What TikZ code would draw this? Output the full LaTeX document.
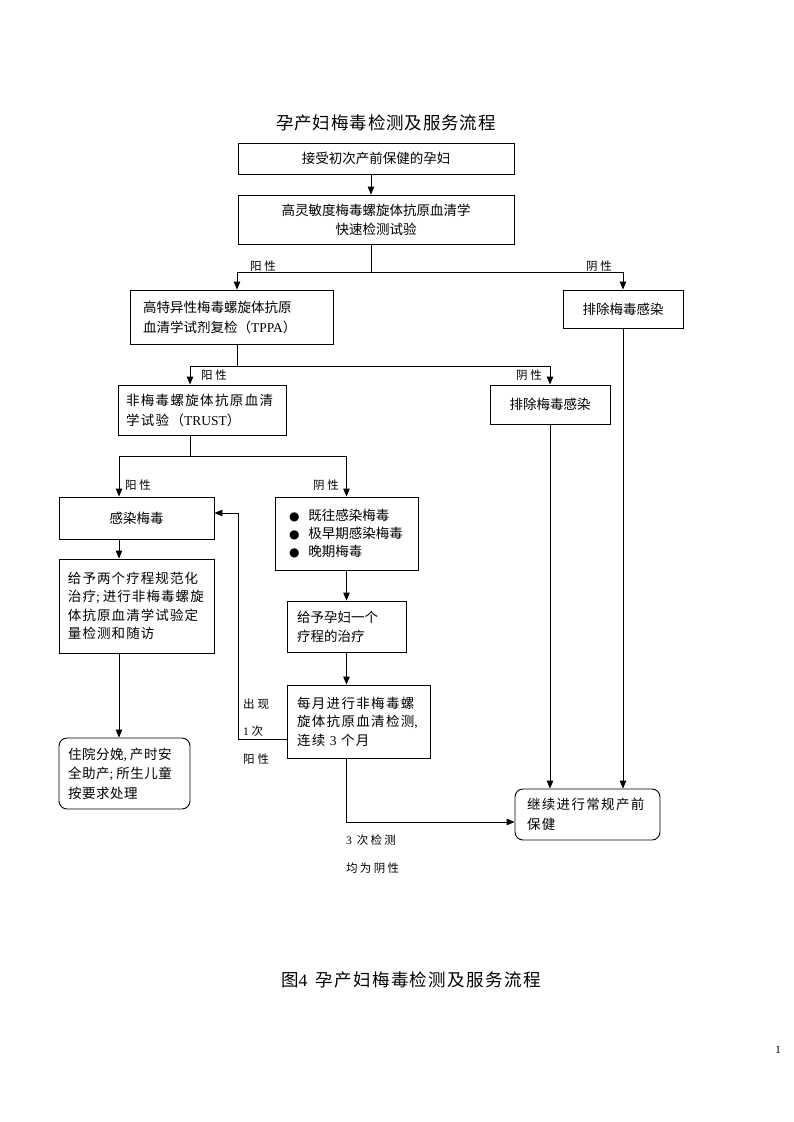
\documentclass[tikz,border=0pt]{standalone}
\usepackage{fontspec}
\setmainfont{Noto Sans CJK SC}
\newfontfamily\lat{Liberation Serif}
\newfontfamily\sym{DejaVu Sans}
\usetikzlibrary{arrows.meta}
\newcommand{\bodyfont}{\fontsize{13.5pt}{19pt}\selectfont}
\newcommand{\widefont}{\fontsize{13.5pt}{18.5pt}\selectfont\addfontfeature{LetterSpace=10}}
\newcommand{\labfont}{\fontsize{11.5pt}{14pt}\selectfont}
\newcommand{\bul}{\hspace*{5pt}{\sym\fontsize{12pt}{12pt}\selectfont ●}\hspace{9pt}}
\newcommand{\hsemi}{{\lat;}\nobreak\hspace{3pt}\nobreak}
\newcommand{\hcomma}{{\lat,}\nobreak\hspace{3pt}\nobreak}
\tikzset{
  box/.style={draw, line width=0.9pt, inner sep=0pt, font=\bodyfont},
  lbox/.style={box, align=left},
  rbox/.style={lbox, rounded corners=8pt},
  arr/.style={-{Triangle[length=8pt,width=6.5pt]}, line width=0.9pt},
  ln/.style={line width=0.9pt},
  lab/.style={font=\labfont, inner sep=0pt},
  llab/.style={lab, anchor=west},
}
\begin{document}
\begin{tikzpicture}[x=1pt,y=-1pt]
\useasboundingbox (0,0) rectangle (793,1122);
\fill[white] (0,0) rectangle (793,1122);

\node[font=\fontsize{17.5pt}{20pt}\selectfont\addfontfeature{LetterSpace=5}, inner sep=0pt] (title) at (386,123) {孕产妇梅毒检测及服务流程};

\node[box, minimum width=276pt, minimum height=31pt] (b1) at (376,158.5) {接受初次产前保健的孕妇};
\node[box, align=center, minimum width=276pt, minimum height=49pt] (b2) at (376,219.5) {高灵敏度梅毒螺旋体抗原血清学\\快速检测试验};
\node[lbox, text width=177pt, inner xsep=13pt, minimum height=54pt, font=\fontsize{13.5pt}{20pt}\selectfont] (b3) at (231.5,317) {高特异性梅毒螺旋体抗原\\血清学试剂复检（{\lat TPPA}）};
\node[box, minimum width=120pt, minimum height=38pt] (b4) at (623,309) {排除梅毒感染};
\node[lbox, text width=152pt, inner xsep=8pt, minimum height=50pt, font=\fontsize{13.5pt}{20pt}\selectfont\addfontfeature{LetterSpace=10}] (b5) at (202,410) {非梅毒螺旋体抗原血清\\学试验（{\lat TRUST}）};
\node[box, minimum width=120pt, minimum height=39pt] (b6) at (550,404.5) {排除梅毒感染};
\node[box, minimum width=155pt, minimum height=42pt] (b7) at (136.5,518) {感染梅毒};
\node[lbox, text width=125pt, inner xsep=9pt, minimum height=73pt, font=\fontsize{13.5pt}{18pt}\selectfont] (b8) at (346.5,533.5) {\bul 既往感染梅毒\\\bul 极早期感染梅毒\\\bul 晚期梅毒};
\node[lbox, text width=140pt, inner xsep=7.5pt, minimum height=94pt, font=\fontsize{13.5pt}{18.5pt}\selectfont\addfontfeature{LetterSpace=8}] (b9) at (136.5,606) {\hspace*{1.5pt}给予两个疗程规范化\\\hspace*{1.5pt}治疗\hsemi 进行非梅毒螺旋\\\hspace*{1.5pt}体抗原血清学试验定\\\hspace*{1.5pt}量检测和随访};
\node[rbox, text width=113pt, inner xsep=9pt, minimum height=71pt, font=\fontsize{13.5pt}{19.5pt}\selectfont\addfontfeature{LetterSpace=4}] (b10) at (124.5,773.5) {住院分娩\hcomma 产时安\\全助产\hsemi 所生儿童\\按要求处理};
\node[lbox, text width=99pt, inner xsep=10pt, minimum height=51pt, font=\fontsize{13.5pt}{19pt}\selectfont] (b11) at (346.5,626.5) {给予孕妇一个\\疗程的治疗};
\node[lbox, text width=123pt, inner xsep=10pt, minimum height=73pt, font=\widefont] (b12) at (358.5,721.5) {每月进行非梅毒螺\\旋体抗原血清检测{\lat,}\\连续{\lat\ 3 }个月};
\node[rbox, text width=121pt, inner xsep=12pt, minimum height=51pt, font=\fontsize{13.5pt}{20pt}\selectfont\addfontfeature{LetterSpace=10}] (b13) at (587.5,814.5) {继续进行常规产前\\保健};

% junctions
\coordinate (j1) at (371,272);
\coordinate (j2) at (237,366);
\coordinate (j3) at (190,456);
\coordinate (fb) at (238,739);
\coordinate (fb2) at (238,513);
\coordinate (ok) at (346.5,822);

\draw[arr] ([xshift=-5pt]b1.south) -- ([xshift=-5pt]b2.north);
\draw[ln] (b2.south -| j1) -- (j1);
\draw[arr] (j1) -| ([xshift=5.5pt]b3.north);
\draw[arr] (j1) -| (b4.north);
\draw[ln] (b3.south -| j2) -- (j2);
\draw[arr] (j2) -| ([xshift=-12pt]b5.north);
\draw[arr] (j2) -| (b6.north);
\draw[ln] (b5.south -| j3) -- (j3);
\draw[arr] (j3) -| ([xshift=-17.5pt]b7.north);
\draw[arr] (j3) -| (b8.north);
\draw[arr] ([xshift=-17.5pt]b7.south) -- ([xshift=-17.5pt]b9.north);
\draw[arr] ([xshift=-17.5pt]b9.south) -- ([xshift=-5.5pt]b10.north);
\draw[arr] (b8.south) -- (b8.south |- b11.north);
\draw[arr] (b11.south) -- (b11.south |- b12.north);
\draw[arr] (b12.west |- fb) -- (fb) -- (fb2) -- (b7.east |- fb2);
\draw[arr] (ok |- b12.south) -- (ok) -- (b13.west |- ok);
\draw[arr] (b6.south) -- (b6.south |- b13.north);
\draw[arr] (b4.south) -- (b4.south |- b13.north);

% labels
\node[lab] (l1) at (263,266) {阳\hspace{3pt}性};
\node[lab] (l2) at (599,266) {阴\hspace{3pt}性};
\node[lab] (l3) at (214,375) {阳\hspace{3pt}性};
\node[lab] (l4) at (529,375) {阴\hspace{3pt}性};
\node[lab] (l5) at (138,485) {阳\hspace{3pt}性};
\node[lab] (l6) at (326,485) {阴\hspace{3pt}性};
\node[llab] (l7) at (243,704) {出\hspace{3pt}现};
\node[llab] (l8) at (243,731) {{\lat 1} 次};
\node[llab] (l9) at (243,759) {阳\hspace{3pt}性};
\node[llab, font=\labfont\addfontfeature{LetterSpace=20}] (l10) at (346,840) {{\lat 3} 次检测};
\node[llab, font=\labfont\addfontfeature{LetterSpace=20}] (l11) at (346,868) {均为阴性};

\node[font=\fontsize{17.5pt}{20pt}\selectfont\addfontfeature{LetterSpace=8}, inner sep=0pt] (cap) at (411,980) {图{\lat 4}\hspace{8pt}孕产妇梅毒检测及服务流程};
\node[font=\lat\fontsize{11pt}{13pt}\selectfont, inner sep=0pt] (pg) at (778,1050) {1};
\end{tikzpicture}
\end{document}
